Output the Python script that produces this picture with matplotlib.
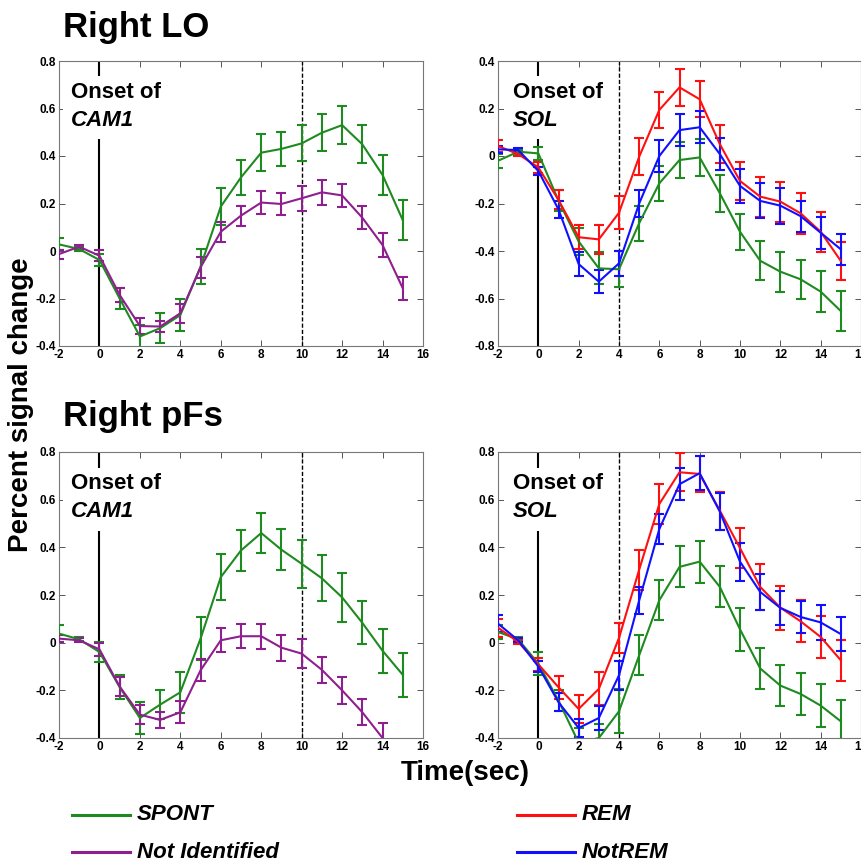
import matplotlib
matplotlib.use("Agg")
import matplotlib.pyplot as plt
from matplotlib.lines import Line2D
import numpy as np

plt.rcParams['font.family'] = ['Liberation Sans', 'DejaVu Sans']

# ---------------- data ----------------
time = list(range(-2, 16))

# Right LO, CAM1 onset
lo_cam_spont = [0.028, 0.008, -0.038, -0.20, -0.36, -0.325, -0.27, -0.066, 0.187, 0.31,
                0.414, 0.43, 0.453, 0.498, 0.53, 0.449, 0.32, 0.13]
lo_cam_spont_err = [0.025, 0.01, 0.025, 0.045, 0.05, 0.062, 0.067, 0.073, 0.078, 0.073,
                    0.077, 0.072, 0.076, 0.077, 0.08, 0.08, 0.085, 0.084]
lo_cam_notid = [-0.013, 0.018, -0.02, -0.185, -0.316, -0.318, -0.262, -0.069, 0.081, 0.149,
                0.204, 0.198, 0.222, 0.247, 0.234, 0.14, 0.025, -0.157]
lo_cam_notid_err = [0.019, 0.008, 0.023, 0.03, 0.033, 0.025, 0.04, 0.044, 0.042, 0.042,
                    0.047, 0.046, 0.052, 0.053, 0.05, 0.049, 0.049, 0.049]

# Right LO, SOL onset
lo_sol_rem = [0.042, 0.008, -0.048, -0.185, -0.342, -0.351, -0.239, -0.003, 0.194, 0.289,
              0.239, 0.05, -0.105, -0.171, -0.192, -0.241, -0.319, -0.442]
lo_sol_rem_err = [0.025, 0.01, 0.022, 0.04, 0.051, 0.06, 0.07, 0.079, 0.077, 0.077,
                  0.075, 0.08, 0.08, 0.084, 0.084, 0.086, 0.084, 0.082]
lo_sol_notrem = [0.028, 0.025, -0.063, -0.225, -0.455, -0.529, -0.452, -0.20, 0.0, 0.109,
                 0.121, 0.008, -0.126, -0.189, -0.209, -0.253, -0.323, -0.393]
lo_sol_notrem_err = [0.016, 0.007, 0.018, 0.035, 0.05, 0.049, 0.053, 0.058, 0.069, 0.068,
                     0.068, 0.066, 0.071, 0.074, 0.076, 0.065, 0.068, 0.065]
lo_sol_spont = [-0.02, 0.018, 0.011, -0.188, -0.36, -0.473, -0.477, -0.283, -0.115, -0.017,
                -0.006, -0.157, -0.319, -0.441, -0.487, -0.519, -0.571, -0.653]
lo_sol_spont_err = [0.03, 0.008, 0.028, 0.045, 0.055, 0.067, 0.076, 0.074, 0.074, 0.074,
                    0.077, 0.079, 0.076, 0.082, 0.084, 0.082, 0.086, 0.084]

# Right pFs, CAM1 onset
pf_cam_spont = [0.038, 0.014, -0.039, -0.187, -0.316, -0.26, -0.208, 0.017, 0.275, 0.387,
                0.46, 0.39, 0.331, 0.27, 0.19, 0.083, -0.034, -0.135]
pf_cam_spont_err = [0.035, 0.008, 0.042, 0.05, 0.068, 0.06, 0.086, 0.091, 0.097, 0.086,
                    0.083, 0.086, 0.10, 0.097, 0.103, 0.09, 0.093, 0.093]
pf_cam_notid = [0.017, 0.01, -0.028, -0.184, -0.302, -0.324, -0.292, -0.116, 0.01, 0.027,
                0.027, -0.021, -0.046, -0.114, -0.20, -0.292, -0.40, -0.52]
pf_cam_notid_err = [0.015, 0.008, 0.028, 0.039, 0.039, 0.032, 0.046, 0.046, 0.05, 0.05,
                    0.053, 0.054, 0.06, 0.055, 0.056, 0.054, 0.065, 0.06]

# Right pFs, SOL onset
pf_sol_rem = [0.063, 0.003, -0.091, -0.187, -0.278, -0.194, 0.02, 0.306, 0.582, 0.715,
              0.708, 0.554, 0.397, 0.234, 0.147, 0.09, 0.024, -0.074]
pf_sol_rem_err = [0.038, 0.01, 0.028, 0.048, 0.06, 0.069, 0.063, 0.083, 0.083, 0.08,
                  0.077, 0.08, 0.085, 0.097, 0.092, 0.089, 0.088, 0.086]
pf_sol_notrem = [0.08, 0.01, -0.10, -0.25, -0.358, -0.316, -0.137, 0.177, 0.477, 0.665,
                 0.711, 0.55, 0.34, 0.213, 0.146, 0.108, 0.085, 0.036]
pf_sol_notrem_err = [0.037, 0.008, 0.022, 0.038, 0.038, 0.05, 0.06, 0.058, 0.064, 0.066,
                     0.072, 0.076, 0.08, 0.074, 0.072, 0.067, 0.072, 0.072]
pf_sol_spont = [0.045, 0.014, -0.088, -0.243, -0.42, -0.40, -0.288, -0.053, 0.178, 0.318,
                0.34, 0.234, 0.056, -0.108, -0.18, -0.215, -0.264, -0.33]
pf_sol_spont_err = [0.03, 0.008, 0.048, 0.045, 0.06, 0.06, 0.093, 0.084, 0.084, 0.086,
                    0.088, 0.086, 0.091, 0.086, 0.086, 0.088, 0.091, 0.09]

xticks = [-2, 0, 2, 4, 6, 8, 10, 12, 14, 16]
yticks_cam = [-0.4, -0.2, 0, 0.2, 0.4, 0.6, 0.8]
ytick_labels_cam = ['-0.4', '-0.2', '0', '0.2', '0.4', '0.6', '0.8']
yticks_lo_sol = [-0.8, -0.6, -0.4, -0.2, 0, 0.2, 0.4]
ytick_labels_lo_sol = ['-0.8', '-0.6', '-0.4', '-0.2', '0', '0.2', '0.4']

onset_cam = 0
offset_cam = 10
onset_sol = 0
offset_sol = 4

GREEN = '#1f8a1f'
PURPLE = '#8e1f8e'
RED = '#ff1010'
BLUE = '#1010ff'

# ---------------- figure ----------------
W, H = 862, 866
fig = plt.figure(figsize=(W / 100, H / 100), dpi=100)

def fx(px):
    return px / W

def fy(py):
    return 1 - py / H

def make_ax(left, top, right, bottom):
    return fig.add_axes([fx(left), fy(bottom), fx(right) - fx(left), fy(top) - fy(bottom)])

ax1 = make_ax(59, 61, 423, 346)
ax2 = make_ax(498, 61, 861, 346)
ax3 = make_ax(59, 452, 423, 738)
ax4 = make_ax(498, 452, 861, 738)

def style(ax, yticks, ylabels, ylim):
    ax.set_xlim(-2, 16)
    ax.set_ylim(*ylim)
    ax.set_xticks(xticks)
    ax.set_xticklabels([str(t) for t in xticks])
    ax.set_yticks(yticks)
    ax.set_yticklabels(ylabels)
    ax.tick_params(direction='in', length=4, width=0.7, top=True, right=True,
                   labelsize=8.5, pad=2, color='#555555')
    for lbl in ax.get_xticklabels() + ax.get_yticklabels():
        lbl.set_fontweight('bold')
    for s in ax.spines.values():
        s.set_linewidth(0.8)
        s.set_color('#777777')

def series(ax, y, err, color):
    ax.errorbar(time, y, yerr=err, color=color, lw=1.5, elinewidth=1.5,
                capsize=3.5, capthick=1.5, zorder=3)

def onset(ax, on, off, word, xfrac):
    ax.axvline(on, color='black', lw=1.5, zorder=2)
    ax.axvline(off, color='black', lw=1.0, ls=(0, (3, 1.5)), zorder=2)
    ax.text(xfrac, 0.870, 'Onset of', transform=ax.transAxes, fontsize=16,
            fontweight='bold', va='baseline', ha='left', zorder=5,
            bbox=dict(facecolor='white', edgecolor='none', pad=4))
    ax.text(xfrac, 0.772, word, transform=ax.transAxes, fontsize=16,
            fontweight='bold', fontstyle='italic', va='baseline', ha='left', zorder=5,
            bbox=dict(facecolor='white', edgecolor='none', pad=6))

# Panel 1
series(ax1, lo_cam_spont, lo_cam_spont_err, GREEN)
series(ax1, lo_cam_notid, lo_cam_notid_err, PURPLE)
onset(ax1, onset_cam, offset_cam, 'CAM1', 0.033)
style(ax1, yticks_cam, ytick_labels_cam, (-0.4, 0.8))

# Panel 2
series(ax2, lo_sol_spont, lo_sol_spont_err, GREEN)
series(ax2, lo_sol_rem, lo_sol_rem_err, RED)
series(ax2, lo_sol_notrem, lo_sol_notrem_err, BLUE)
onset(ax2, onset_sol, offset_sol, 'SOL', 0.041)
style(ax2, yticks_lo_sol, ytick_labels_lo_sol, (-0.8, 0.4))

# Panel 3
series(ax3, pf_cam_spont, pf_cam_spont_err, GREEN)
series(ax3, pf_cam_notid, pf_cam_notid_err, PURPLE)
onset(ax3, onset_cam, offset_cam, 'CAM1', 0.033)
style(ax3, yticks_cam, ytick_labels_cam, (-0.4, 0.8))

# Panel 4
series(ax4, pf_sol_spont, pf_sol_spont_err, GREEN)
series(ax4, pf_sol_rem, pf_sol_rem_err, RED)
series(ax4, pf_sol_notrem, pf_sol_notrem_err, BLUE)
onset(ax4, onset_sol, offset_sol, 'SOL', 0.041)
style(ax4, yticks_cam, ytick_labels_cam, (-0.4, 0.8))

# Titles and labels
fig.text(fx(63), fy(37), 'Right LO', fontsize=25, fontweight='bold', ha='left', va='baseline')
fig.text(fx(63), fy(426), 'Right pFs', fontsize=25, fontweight='bold', ha='left', va='baseline')
fig.text(fx(21), fy(405), 'Percent signal change', fontsize=20, fontweight='bold',
         rotation=90, ha='center', va='center')
fig.text(fx(465), fy(780), 'Time(sec)', fontsize=20, fontweight='bold',
         ha='center', va='baseline')

# Legend
legend_entries = [('SPONT', GREEN, 72, 815), ('Not Identified', PURPLE, 72, 852),
                  ('REM', RED, 517, 815), ('NotREM', BLUE, 517, 852)]
for label, color, x0, yc in legend_entries:
    fig.add_artist(Line2D([fx(x0), fx(x0 + 58)], [fy(yc), fy(yc)], color=color, lw=2.2))
    fig.text(fx(x0 + 65), fy(yc), label, fontsize=16, fontweight='bold', fontstyle='italic',
             ha='left', va='center')

fig.savefig('out.png', dpi=100)
